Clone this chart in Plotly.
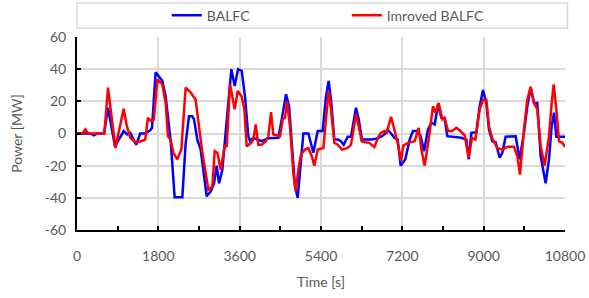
import plotly.graph_objects as go

# BALFC series (time [s], power [MW])
balfc_t = [0, 300, 370, 450, 600, 686, 840, 1033, 1110, 1180, 1310, 1400, 1510, 1620, 1660, 1740,
           1888, 1962, 2073, 2161, 2331, 2405, 2479, 2553, 2590, 2663, 2737, 2811, 2870, 2959, 3033,
           3091, 3143, 3217, 3328, 3416, 3490, 3564, 3645, 3718, 3792, 3829, 3903, 4013, 4087, 4235,
           4456, 4530, 4626, 4693, 4766, 4825, 4884, 4936, 5010, 5120, 5231, 5327, 5437, 5510, 5569,
           5621, 5695, 5769, 5843, 5902, 5990, 6064, 6123, 6175, 6234, 6307, 6396, 6507, 6617, 6728,
           6802, 6876, 6950, 7023, 7097, 7163, 7266, 7362, 7436, 7532, 7606, 7680, 7768, 7842, 7916,
           7990, 8063, 8137, 8196, 8285, 8395, 8506, 8617, 8669, 8728, 8838, 8912, 8986, 9058, 9117,
           9191, 9265, 9354, 9413, 9486, 9597, 9708, 9796, 9892, 9966, 10040, 10114, 10187, 10261,
           10372, 10446, 10505, 10557, 10608, 10704, 10800]
balfc_p = [0, 0, -1.2, 0, 0, 16, -8, 1.5, -0.6, 0.4, -7, 0, 0, 2, 3.5, 38,
           32.7, 23, -4.8, -39.6, -39.6, -5.8, 10.8, 10.8, 8.8, -3.8, -10, -24.6, -39, -36, -31,
           -20, -31, -22.5, 13, 40, 29.6, 40, 39, 23, -1.7, -4.8, -2.7, -3.8, -4.8, -3,
           -2.7, 8.8, 24.4, 17, -8, -33, -40, -22.5, 0, 0, -12, 1.5, 1.5, 23, 32.7,
           21, -3.8, -3.8, -4.8, -7, -2, -2, 8.8, 16, 8.8, -3.8, -3.8, -3.8, -3.3, -2,
           -0.6, 2.5, 0, -2.7, -3.8, -20, -16, -3.8, 1.5, 1.5, -1.7, -11, 2.5, 6.7, 5.6,
           18, 9.8, 8.8, -1.7, -2, -2, -2.7, -3.8, -16, 0.4, 0.8, 17, 27, 19, 2.5,
           -4.8, -5.4, -15, -12, -2, -1.7, -1.7, -16, 0.4, 17, 28.5, 19, 19, -14,
           -31, -16, 4.6, 13, -2, -2, -2]

# Improved BALFC series
imp_t = [0, 120, 185, 250, 605, 686, 850, 940, 1033, 1100, 1180, 1290, 1400, 1510, 1570, 1640, 1700,
         1778, 1888, 1962, 2014, 2073, 2132, 2220, 2309, 2405, 2516, 2626, 2700, 2774, 2848, 2907,
         2995, 3047, 3106, 3180, 3268, 3313, 3387, 3490, 3556, 3645, 3704, 3755, 3851, 3903, 3955,
         4013, 4087, 4176, 4235, 4294, 4346, 4441, 4493, 4552, 4604, 4648, 4714, 4788, 4840, 4899,
         4958, 5046, 5120, 5194, 5253, 5327, 5453, 5496, 5569, 5621, 5695, 5769, 5865, 5990, 6064,
         6115, 6175, 6234, 6300, 6381, 6470, 6581, 6676, 6728, 6802, 6854, 6898, 6950, 7023, 7097,
         7171, 7223, 7325, 7473, 7562, 7620, 7694, 7783, 7879, 7931, 8004, 8086, 8137, 8211, 8300,
         8395, 8469, 8580, 8669, 8742, 8816, 8912, 8986, 9058, 9117, 9191, 9302, 9413, 9523, 9671,
         9745, 9804, 9892, 9966, 10040, 10114, 10187, 10261, 10350, 10446, 10505, 10550, 10608,
         10667, 10741, 10800]
imp_p = [0, 0, 2.5, 0, 0, 28.5, -9, 2, 15.4, 5, -2.7, -5.4, -5, -3.8, 9.8, 7.7, 8.7,
         33.7, 30.6, 19, -1.7, -3.8, -12, -16, -10, 28.5, 25.4, 21, 4.6, -12, -24.6, -35,
         -33, -11, -12, -22.5, -8, -8, 30.6, 15, 26.5, 23, 15, -8, -5.8, -3.8, 5.6,
         -7, -7, -4.8, -1.7, 13.3, -0.6, -1.2, -1.7, 8.8, 9.8, 20, 4.6, -24.6, -36, -22.5,
         -13, -10, -9, -14, -20, -10, -9, 4.6, 26.5, 15, -5.8, -7, -10, -9, -7,
         1.5, 11.9, 4.6, -4.8, -5.4, -5.8, -8.3, -1.7, 0.4, 1.5, 0.4, 5.6, 10.4, 2.5, -5.8,
         -17, -7.5, -5.8, -4.8, 3.5, -10, -20, -3.8, 17, 13, 19, 8.8, 9.8, 1.5, 1.5,
         3.5, 2, -1.2, -15, -2.7, -3.8, 15, 21, 21, 4.6, -3.3, -9, -10, -8.3, -8.3,
         -14, -25.6, 2.5, 21, 29, 19, 15, -8, -20, -1.7, 19, 30.6, 15,
         -4.8, -5.8, -8.3]

x_ticks = [0, 1800, 3600, 5400, 7200, 9000, 10800]
y_ticks = [-60, -40, -20, 0, 20, 40, 60]

FONT = "Lato, Carlito, Calibri, sans-serif"
GREY = "#595959"

fig = go.Figure()
fig.add_trace(go.Scatter(x=balfc_t, y=balfc_p, mode="lines", name="BALFC",
                         line=dict(color="#0000FF", width=2.5)))
fig.add_trace(go.Scatter(x=imp_t, y=imp_p, mode="lines", name="Imroved BALFC",
                         line=dict(color="#FF0000", width=2.5)))

fig.update_layout(
    width=589, height=298,
    margin=dict(l=77, r=24, t=37, b=68, autoexpand=False),
    paper_bgcolor="white", plot_bgcolor="white",
    font=dict(family=FONT, size=14, color=GREY),
    showlegend=True,
    legend=dict(orientation="h", x=0.184, xanchor="left", y=1.11, yanchor="middle",
                bgcolor="rgba(0,0,0,0)", borderwidth=0,
                font=dict(family=FONT, size=14, color=GREY),
                entrywidth=135, entrywidthmode="pixels",
                traceorder="normal"),
    shapes=[dict(type="rect", xref="paper", yref="paper", x0=0, x1=1.005, y0=1.045, y1=1.176,
                 line=dict(color="#d9d9d9", width=1.5), fillcolor="rgba(0,0,0,0)", layer="below")],
)

fig.update_xaxes(range=[0, 10800], tickvals=x_ticks, ticktext=[str(v) for v in x_ticks],
                 showgrid=True, gridcolor="#d9d9d9", gridwidth=1.5,
                 showline=True, linecolor="black", linewidth=2,
                 ticks="inside", ticklen=4, tickcolor="black", tickwidth=1.5,
                 minor=dict(dtick=900, tick0=0, ticks="inside", ticklen=4, tickcolor="black",
                            tickwidth=1.5, showgrid=False),
                 ticklabelstandoff=12, zeroline=False, automargin=False,
                 title=dict(text="Time [s]", font=dict(family=FONT, size=14, color=GREY), standoff=14))
fig.update_yaxes(range=[-60, 60], tickvals=y_ticks, ticktext=[str(v) for v in y_ticks],
                 showgrid=True, gridcolor="#d9d9d9", gridwidth=1.5,
                 showline=True, linecolor="black", linewidth=2,
                 ticks="inside", ticklen=4, tickcolor="black", tickwidth=1.5,
                 ticklabelstandoff=6, zeroline=False, automargin=False,
                 title=dict(text="Power [MW]", font=dict(family=FONT, size=14, color=GREY), standoff=19))

fig.write_html("out.html", config={"displayModeBar": False},
               post_script="document.body.style.margin='0';")
